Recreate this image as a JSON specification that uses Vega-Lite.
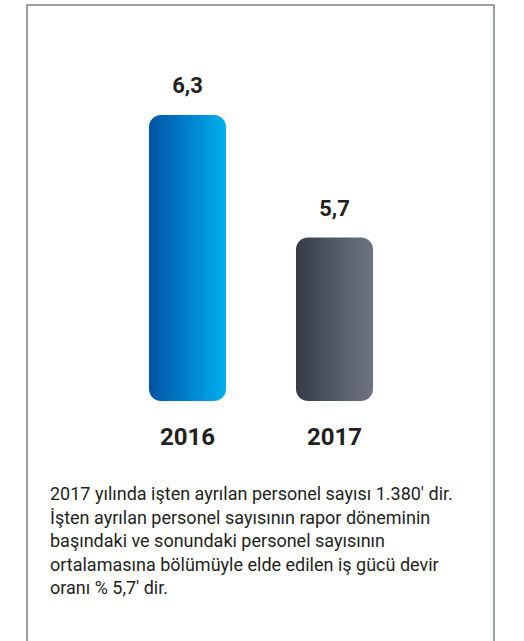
{
  "$schema": "https://vega.github.io/schema/vega-lite/v6.json",
  "autosize": {"type": "none"},
  "padding": {"left": 27, "top": 5, "right": 30, "bottom": 0},
  "width": 467,
  "height": 637,
  "background": "white",
  "config": {
    "view": {"stroke": "#7d828a", "strokeWidth": 1.5},
    "font": "Roboto"
  },
  "title": {
    "text": [
      "2017 yılında işten ayrılan personel sayısı 1.380' dir.",
      "İşten ayrılan personel sayısının rapor döneminin",
      "başındaki ve sonundaki personel sayısının",
      "ortalamasına bölümüyle elde edilen iş gücü devir",
      "oranı % 5,7' dir."
    ],
    "orient": "bottom",
    "anchor": "start",
    "frame": "group",
    "offset": -156,
    "dx": 23,
    "baseline": "top",
    "font": "Roboto",
    "fontSize": 18,
    "fontWeight": "normal",
    "color": "#231f20",
    "lineHeight": 23.5
  },
  "data": {
    "values": [
      {"year": "2016", "value": 6.3, "label": "6,3"},
      {"year": "2017", "value": 5.7, "label": "5,7"}
    ]
  },
  "encoding": {
    "x": {
      "field": "year",
      "type": "nominal",
      "axis": null,
      "scale": {"range": [48.5, 419.5], "paddingInner": 0.476, "paddingOuter": 0.5}
    }
  },
  "layer": [
    {
      "transform": [{"filter": "datum.year == '2016'"}],
      "mark": {
        "type": "bar",
        "cornerRadius": 12,
        "color": {
          "gradient": "linear",
          "x1": 0, "y1": 0, "x2": 1, "y2": 0,
          "stops": [
            {"offset": 0, "color": "#0052a4"},
            {"offset": 1, "color": "#00b0f0"}
          ]
        }
      },
      "encoding": {
        "y": {
          "field": "value",
          "type": "quantitative",
          "axis": null,
          "scale": {"domain": [4.9, 6.3], "range": [396, 110], "zero": false}
        },
        "y2": {"datum": 4.9}
      }
    },
    {
      "transform": [{"filter": "datum.year == '2017'"}],
      "mark": {
        "type": "bar",
        "cornerRadius": 12,
        "color": {
          "gradient": "linear",
          "x1": 0, "y1": 0, "x2": 1, "y2": 0,
          "stops": [
            {"offset": 0, "color": "#363c47"},
            {"offset": 1, "color": "#6e7481"}
          ]
        }
      },
      "encoding": {
        "y": {"field": "value", "type": "quantitative"},
        "y2": {"datum": 4.9}
      }
    },
    {
      "mark": {
        "type": "text",
        "baseline": "alphabetic",
        "dy": -22,
        "font": "Roboto",
        "fontSize": 22,
        "fontWeight": "bold",
        "color": "#231f20"
      },
      "encoding": {
        "y": {"field": "value", "type": "quantitative"},
        "text": {"field": "label"}
      }
    },
    {
      "mark": {
        "type": "text",
        "baseline": "alphabetic",
        "dy": 44,
        "font": "Roboto",
        "fontSize": 24,
        "fontWeight": "bold",
        "color": "#231f20"
      },
      "encoding": {
        "y": {"datum": 4.9, "type": "quantitative"},
        "text": {"field": "year"}
      }
    }
  ]
}
